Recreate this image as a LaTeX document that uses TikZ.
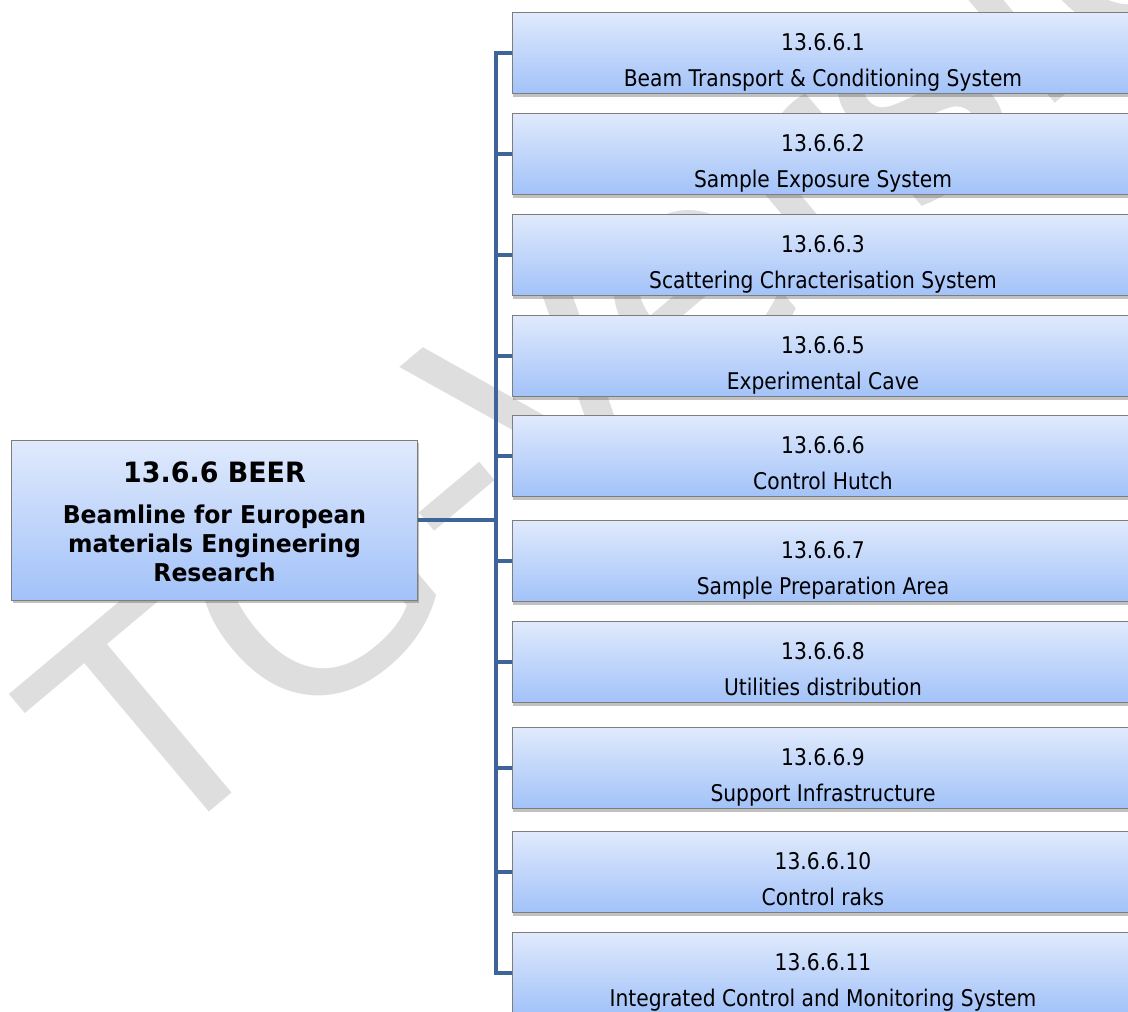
\documentclass[tikz,border=0pt]{standalone}
\usepackage{fontspec}
\setmainfont{DejaVu Sans}[FakeStretch=0.88]
\newfontfamily\rootfont{DejaVu Sans}[FakeStretch=0.96]
\newfontfamily\markfont{DejaVu Sans}
\usetikzlibrary{positioning,shadows}
\definecolor{boxtop}{RGB}{224,234,252}
\definecolor{boxbot}{RGB}{162,194,249}
\definecolor{boxline}{RGB}{125,125,125}
\definecolor{treeline}{RGB}{61,101,151}
\definecolor{markgray}{RGB}{222,222,222}
\pgfdeclarelayer{marklayer}
\pgfdeclarelayer{linklayer}
\pgfsetlayers{marklayer,linklayer,main}
\tikzset{
  wbsbox/.style={draw=boxline, line width=1pt, top color=boxtop, bottom color=boxbot,
    drop shadow={shadow xshift=1pt, shadow yshift=-3pt, opacity=0.35, fill=black!70},
    inner sep=0pt, align=center},
  rootbox/.style={wbsbox, minimum width=406pt, minimum height=160pt,
    font=\rootfont\bfseries\fontsize{24.5}{29}\selectfont},
  childbox/.style={wbsbox, minimum width=622pt, minimum height=81pt,
    font=\fontsize{23}{36}\selectfont},
  tree/.style={draw=treeline, line width=4.5pt, line cap=rect},
  watermark/.style={text=markgray, inner sep=0pt, anchor=base west, rotate=40,
    font=\markfont\fontsize{300}{300}\selectfont}
}

\begin{document}
\begin{tikzpicture}[x=1pt,y=-1pt]
  \useasboundingbox (0,0) rectangle (1128,1012);

  \begin{pgfonlayer}{marklayer}
    \node[watermark] (wmark) at (150,862) {TG-Version};
  \end{pgfonlayer}

  % root of the breakdown
  \node[rootbox] (beer) at (214.5,520)
    {\rule{0pt}{23.5pt}{\fontsize{28}{29}\selectfont 13.6.6 BEER}\\[12pt]
     Beamline for European\\ materials Engineering\\ Research};

  % work packages
  \foreach \n/\y/\num/\txt in {
      c1/53/13.6.6.1/Beam Transport \& Conditioning System,
      c2/154/13.6.6.2/Sample Exposure System,
      c3/255/13.6.6.3/Scattering Chracterisation System,
      c5/356/13.6.6.5/Experimental Cave,
      c6/456/13.6.6.6/Control Hutch,
      c7/561/13.6.6.7/Sample Preparation Area,
      c8/662/13.6.6.8/Utilities distribution,
      c9/768/13.6.6.9/Support Infrastructure,
      c10/872/13.6.6.10/Control raks,
      c11/973/13.6.6.11/Integrated Control and Monitoring System}
    \node[childbox] (\n) at (823,\y)
      {\rule{0pt}{35pt}\num\\ \txt\rule[-5pt]{0pt}{5pt}};

  \coordinate (trunk) at (496,520);

  \begin{pgfonlayer}{linklayer}
    \draw[tree] (beer.east) -- (trunk);
    \draw[tree] (trunk |- c1.west) -- (trunk |- c11.west);
    \foreach \n in {c1,c2,c3,c5,c6,c7,c8,c9,c10,c11}
      \draw[tree] (trunk |- \n.west) -- (\n.west);
  \end{pgfonlayer}
\end{tikzpicture}
\end{document}
